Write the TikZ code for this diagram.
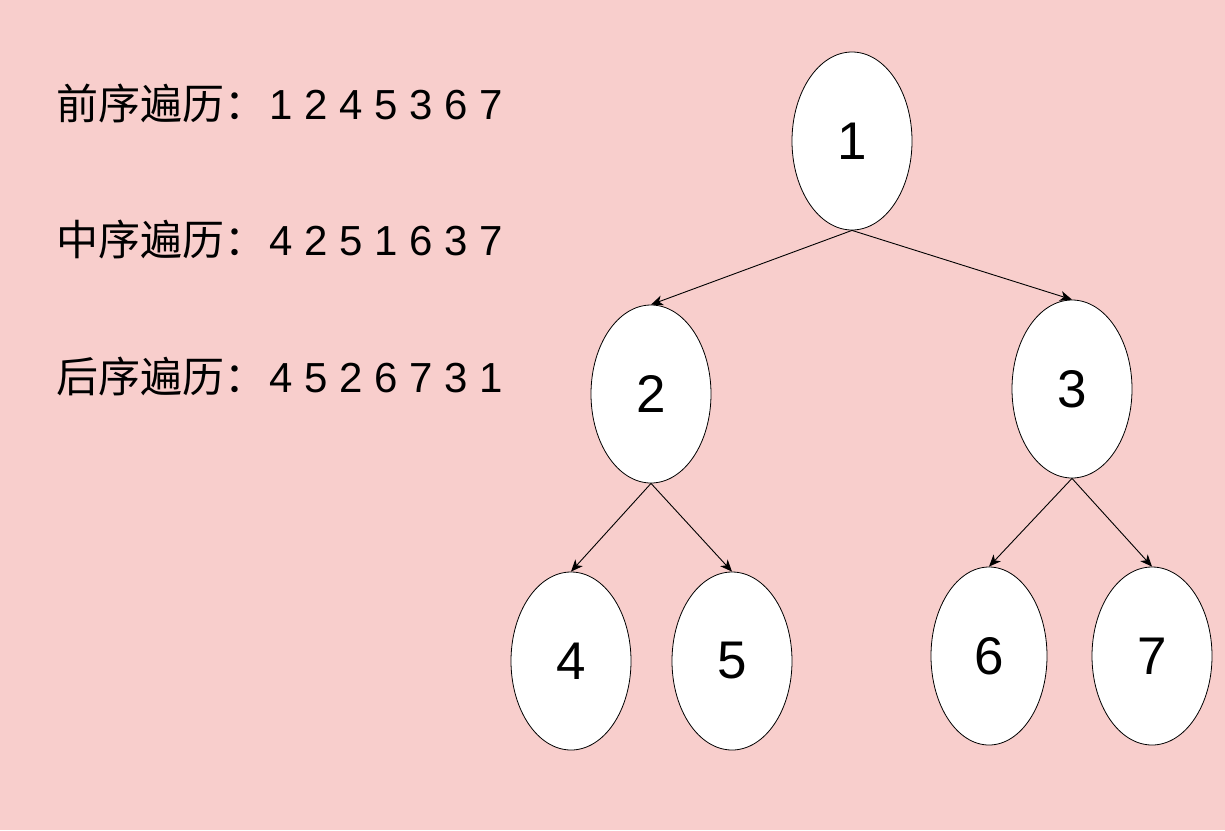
\documentclass[tikz,border=0pt]{standalone}
\usepackage{fontspec}
\setmainfont{Liberation Sans}
\newfontfamily\cjk{Noto Sans CJK SC}
\usetikzlibrary{shapes.geometric,arrows.meta}
\definecolor{bgpink}{HTML}{F8CECC}
\tikzset{
  treenode/.style={ellipse, draw=black, line width=0.8pt, fill=white, inner sep=0pt,
    minimum width=120pt, minimum height=178pt, font=\fontsize{53}{60}\selectfont},
  treeedge/.style={draw=black, line width=0.9pt, -{Stealth[length=12pt,width=10pt,inset=3.5pt]}},
  trav/.style={anchor=base west, inner sep=0pt, font=\fontsize{42}{48}\selectfont}
}
\begin{document}
\begin{tikzpicture}[x=1pt,y=-1pt]
\fill[bgpink] (0,0) rectangle (1225,830);
\useasboundingbox (0,0) rectangle (1225,830);

\node[trav] (pre) at (56,119) {{\cjk 前序遍历：}\kern3pt 1 2 4 5 3 6 7};
\node[trav] (in) at (56,255) {{\cjk 中序遍历：}\kern3pt 4 2 5 1 6 3 7};
\node[trav] (post) at (56,392) {{\cjk 后序遍历：}\kern3pt 4 5 2 6 7 3 1};

\node[treenode] (n1) at (852,141) {1};
\node[treenode] (n2) at (651,394) {2};
\node[treenode] (n3) at (1072,389) {3};
\node[treenode] (n4) at (571,661) {4};
\node[treenode] (n5) at (732,661) {5};
\node[treenode, minimum width=116pt] (n6) at (989,656) {6};
\node[treenode] (n7) at (1152,656) {7};

\draw[treeedge] (n1.south) -- (n2.north);
\draw[treeedge] (n1.south) -- (n3.north);
\draw[treeedge] (n2.south) -- (n4.north);
\draw[treeedge] (n2.south) -- (n5.north);
\draw[treeedge] (n3.south) -- (n6.north);
\draw[treeedge] (n3.south) -- (n7.north);
\end{tikzpicture}
\end{document}
